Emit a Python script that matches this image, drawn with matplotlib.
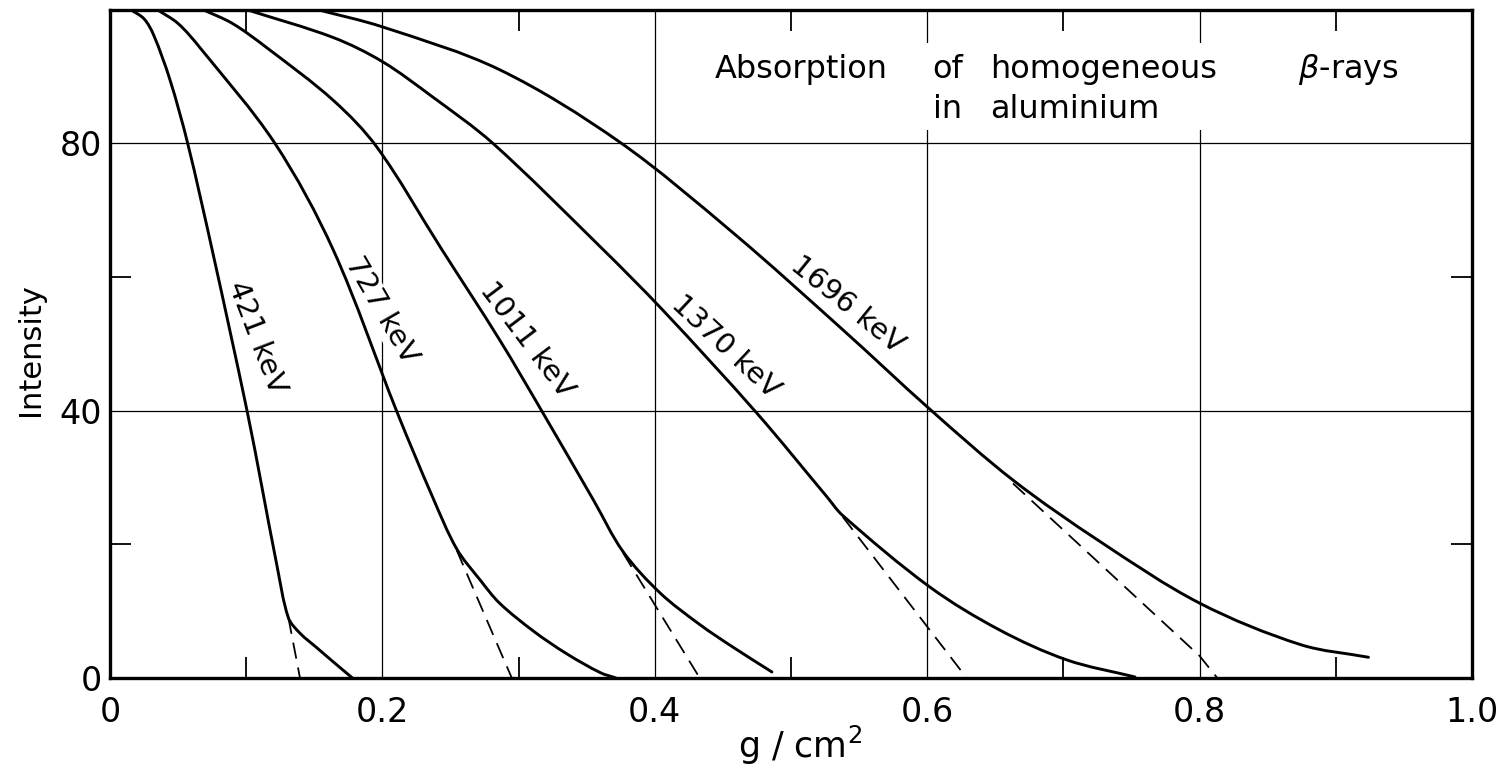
import matplotlib
matplotlib.use("Agg")
import numpy as np
import matplotlib.pyplot as plt
from matplotlib.patches import Rectangle, PathPatch
from matplotlib.path import Path

# ---------------- data ----------------
energies = ["421 keV", "727 keV", "1011 keV", "1370 keV", "1696 keV"]

x_421 = [0.015, 0.025, 0.032, 0.044, 0.057, 0.0756, 0.1006, 0.1116, 0.1224, 0.131,
         0.1395, 0.152, 0.164, 0.178]
y_421 = [100, 98.6, 96.2, 89.5, 80, 63.5, 40, 28.5, 17, 9.0,
         6.7, 4.5, 2.4, 0]
dash_x_421 = [0.131, 0.1395]
dash_y_421 = [9.0, 0]

x_727 = [0.0345, 0.05, 0.066, 0.121, 0.164, 0.2107, 0.237, 0.2546, 0.272, 0.286,
         0.311, 0.3355, 0.36, 0.3715]
y_727 = [100, 97.9, 94.3, 80, 64, 39.8, 27, 19.3, 14.6, 11.2,
         7.0, 3.6, 0.8, 0]
dash_x_727 = [0.2546, 0.295]
dash_y_727 = [19.1, 0]

x_1011 = [0.068, 0.09, 0.115, 0.164, 0.196, 0.243, 0.286, 0.318, 0.355, 0.3767,
          0.404, 0.433, 0.4575, 0.486]
y_1011 = [100, 97.9, 94.3, 86.4, 79.4, 64.3, 50.6, 39.6, 26.6, 18.9,
          12.7, 8.0, 4.6, 0.9]
dash_x_1011 = [0.3767, 0.433]
dash_y_1011 = [18.7, 0]

x_1370 = [0.10, 0.164, 0.2, 0.237, 0.281, 0.36, 0.406, 0.475, 0.526, 0.538,
          0.602, 0.653, 0.7026, 0.7526]
y_1370 = [100, 95.8, 92.2, 86.9, 80, 64.5, 55, 39.6, 27.2, 24.3,
          13.6, 7.2, 2.7, 0.15]
dash_x_1370 = [0.538, 0.629]
dash_y_1370 = [24.1, 0]

x_1696 = [0.152, 0.2, 0.286, 0.374, 0.458, 0.538, 0.602, 0.663, 0.727, 0.80,
          0.874, 0.924]
y_1696 = [100, 97.4, 91.0, 80.2, 66.5, 52.1, 40.2, 29.6, 20.4, 11.2,
          5.0, 3.1]
dash_x_1696 = [0.663, 0.80, 0.813]
dash_y_1696 = [29.1, 3.3, 0]

x_ticks = [0, 0.2, 0.4, 0.6, 0.8, 1.0]
x_ticklabels = ["0", "0.2", "0.4", "0.6", "0.8", "1.0"]
y_ticks = [0, 40, 80]
y_ticklabels = ["0", "40", "80"]
x_minor = [0.1, 0.3, 0.5, 0.7, 0.9]
y_minor = [20, 60]

# label placement (centre, rotation)
label_pos = [(0.108, 51.0, -69), (0.199, 55.0, -60), (0.306, 50.5, -53),
             (0.452, 49.6, -43), (0.541, 55.8, -39)]

# ---------------- figure ----------------
plt.rcParams['font.family'] = ['DejaVu Sans']
W, H = 1497, 769
fig = plt.figure(figsize=(W / 100, H / 100), dpi=100)
ax = fig.add_axes([110 / W, 1 - 678 / H, 1362 / W, (678 - 9.5) / H])
ax.set_xlim(0, 1.0)
ax.set_ylim(0, 100)

ax.set_xticks(x_ticks)
ax.set_xticklabels(x_ticklabels)
ax.set_yticks(y_ticks)
ax.set_yticklabels(y_ticklabels)
ax.set_xticks(x_minor, minor=True)
ax.set_yticks(y_minor, minor=True)
ax.tick_params(which='major', length=0, labelsize=24)
ax.tick_params(axis='x', which='major', pad=13)
ax.tick_params(axis='y', which='major', pad=6)
ax.tick_params(which='minor', direction='in', length=15, width=1.3,
               top=True, right=True, bottom=True, left=True)
ax.grid(which='major', color='black', lw=0.9)
ax.set_axisbelow(True)
for s in ax.spines.values():
    s.set_linewidth(2.4)
    s.set_zorder(6)


def smooth_path(xs, ys):
    """Smooth cubic (chord-length Hermite) path through the given data points."""
    P = np.column_stack([xs, ys]).astype(float)
    pix = ax.transData.transform(P)
    t = np.concatenate([[0], np.cumsum(np.hypot(*np.diff(pix, axis=0).T))])
    n = len(P)
    M = np.zeros_like(P)
    for i in range(n):
        a = max(i - 1, 0)
        b = min(i + 1, n - 1)
        M[i] = (P[b] - P[a]) / (t[b] - t[a])
    verts = [P[0]]
    codes = [Path.MOVETO]
    for i in range(n - 1):
        h = t[i + 1] - t[i]
        verts += [P[i] + M[i] * h / 3, P[i + 1] - M[i + 1] * h / 3, P[i + 1]]
        codes += [Path.CURVE4] * 3
    return Path(verts, codes)


curves = [(x_421, y_421, dash_x_421, dash_y_421),
          (x_727, y_727, dash_x_727, dash_y_727),
          (x_1011, y_1011, dash_x_1011, dash_y_1011),
          (x_1370, y_1370, dash_x_1370, dash_y_1370),
          (x_1696, y_1696, dash_x_1696, dash_y_1696)]

for (xs, ys, dx, dy), name, (lx, ly, rot) in zip(curves, energies, label_pos):
    ax.add_patch(PathPatch(smooth_path(xs, ys), fill=False, ec='black', lw=2.1,
                           zorder=4, capstyle='round', joinstyle='round'))
    ax.plot(dx, dy, color='black', lw=1.3, ls=(0, (9, 5)), zorder=4)
    ax.text(lx, ly, name, rotation=rot, rotation_mode='anchor', ha='center',
            va='center', fontsize=21, zorder=3,
            bbox=dict(facecolor='white', edgecolor='none', pad=0.5))

# white area behind the title
ax.add_patch(Rectangle((0.43, 82.0), 0.565, 13.0, facecolor='white',
                       edgecolor='none', zorder=1.5))
title_fs = 23
ax.text(0.444, 89.7, "Absorption", fontsize=title_fs, va='baseline', zorder=3)
ax.text(0.604, 89.7, "of", fontsize=title_fs, va='baseline', zorder=3)
ax.text(0.646, 89.7, "homogeneous", fontsize=title_fs, va='baseline', zorder=3)
ax.text(0.872, 89.7, r"$\beta$-rays", fontsize=title_fs, va='baseline', zorder=3)
ax.text(0.604, 83.7, "in", fontsize=title_fs, va='baseline', zorder=3)
ax.text(0.646, 83.7, "aluminium", fontsize=title_fs, va='baseline', zorder=3)

fig.text(30 / W, 1 - 350 / H, "Intensity", rotation=90, ha='center', va='center',
         fontsize=22)
fig.text(800 / W, 1 - 745 / H, r"g / cm$^2$", ha='center', va='center', fontsize=25)

fig.savefig("out.png", dpi=100, facecolor='white')
